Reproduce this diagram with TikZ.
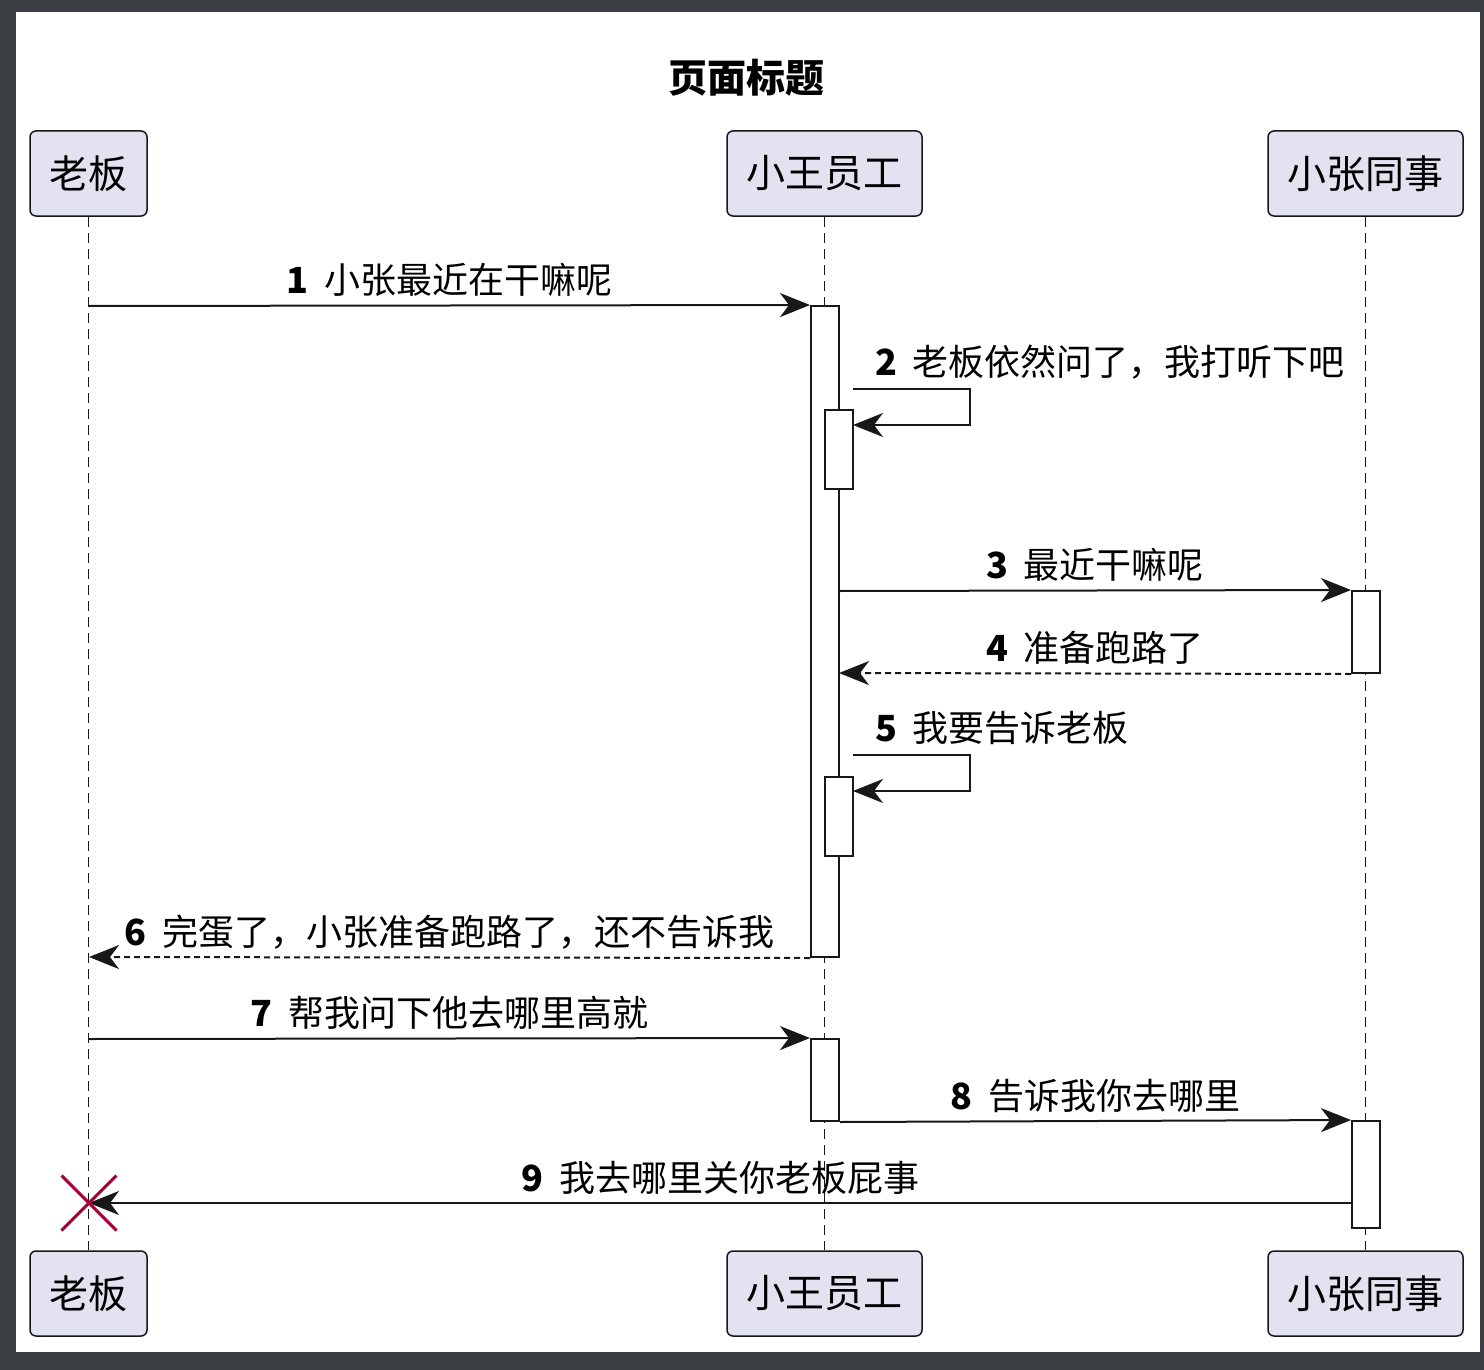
\documentclass[tikz,border=0pt]{standalone}
\usepackage{fontspec}
\setmainfont{Noto Sans CJK SC}
\usetikzlibrary{arrows.meta,shapes.misc}
\definecolor{framecol}{HTML}{3B3F43}
\definecolor{partfill}{HTML}{E2E2F0}
\definecolor{partline}{HTML}{181818}
\definecolor{xred}{HTML}{A80036}
\definecolor{ink}{HTML}{181818}
\newcommand{\numsp}{\hspace{0.42em}}
\begin{document}
\begin{tikzpicture}[x=0.5pt,y=-0.5pt,
  part/.style={draw=partline, line width=0.75pt, fill=partfill, rounded corners=3pt,
    inner sep=0pt, minimum height=42.5pt, font=\fontsize{19.5}{23}\selectfont},
  actbox/.style={draw=ink, line width=1pt, fill=white, minimum width=14pt, inner sep=0pt},
  msg/.style={line width=1pt, draw=ink, -{Stealth[length=15pt,width=12pt,inset=4.5pt]}},
  ret/.style={msg, dash pattern=on 3pt off 2pt},
  lbl/.style={font=\fontsize{18}{22}\selectfont, inner sep=0pt, text=black},
  life/.style={line width=0.5pt, dash pattern=on 5pt off 3pt, draw=ink}]
\useasboundingbox (0,0) rectangle (1484,1370);
\fill[framecol] (0,0) rectangle (1484,1370);
\fill[white] (16,12) rectangle (1480,1352);

% title
\node[font=\bfseries\fontsize{19.5}{23}\selectfont, inner sep=0pt] (title) at (746,78) {页面标题};

% participants
\node[part, minimum width=58.5pt] (boss) at (88.5,173.5) {老板};
\node[part, minimum width=97.5pt] (wang) at (824.5,173.5) {小王员工};
\node[part, minimum width=97.5pt] (zhang) at (1365.5,173.5) {小张同事};
\node[part, minimum width=58.5pt] (boss2) at (88.5,1293.5) {老板};
\node[part, minimum width=97.5pt] (wang2) at (824.5,1293.5) {小王员工};
\node[part, minimum width=97.5pt] (zhang2) at (1365.5,1293.5) {小张同事};

% lifelines
\draw[life] (boss.south) -- (boss2.north);
\draw[life] (wang.south) -- (wang2.north);
\draw[life] (zhang.south) -- (zhang2.north);

% activations
\node[actbox, minimum height=325.5pt] (act1) at (825,631.5) {};
\node[actbox, minimum height=39.5pt] (act2) at (839,449.5) {};
\node[actbox, minimum height=41pt] (act3) at (1366,632) {};
\node[actbox, minimum height=39.5pt] (act4) at (839,816.5) {};
\node[actbox, minimum height=41pt] (act5) at (825,1080) {};
\node[actbox, minimum height=53.5pt] (act6) at (1366,1174.5) {};

% endpoint coordinates
\coordinate (m1s) at (89,306);
\coordinate (m2s) at (853,389);
\coordinate (m2e) at (853,425);
\coordinate (m3s) at (839,591);
\coordinate (m4e) at (839,673);
\coordinate (m5s) at (853,755);
\coordinate (m5e) at (853,791);
\coordinate (m6e) at (89,957);
\coordinate (m7s) at (89,1039);
\coordinate (m9s) at (1352,1203);
\coordinate (m9e) at (89,1203);

% messages
\draw[msg] (m1s) -- node[lbl, midway, anchor=base, yshift=6pt] {\textbf{1}\numsp 小张最近在干嘛呢} (act1.north west);
\draw[msg] (m2s) -- ++(117,0) |- (m2e);
\node[lbl, anchor=base west] (l2) at (875,375) {\textbf{2}\numsp 老板依然问了，我打听下吧};
\draw[msg] (m3s) -- node[lbl, midway, anchor=base, yshift=6pt] {\textbf{3}\numsp 最近干嘛呢} (act3.north west);
\draw[ret] (act3.south west) -- node[lbl, midway, anchor=base, yshift=6pt] {\textbf{4}\numsp 准备跑路了} (m4e);
\draw[msg] (m5s) -- ++(117,0) |- (m5e);
\node[lbl, anchor=base west] (l5) at (875,741) {\textbf{5}\numsp 我要告诉老板};
\draw[ret] (act1.south west) -- node[lbl, midway, anchor=base, yshift=6pt] {\textbf{6}\numsp 完蛋了，小张准备跑路了，还不告诉我} (m6e);
\draw[msg] (m7s) -- node[lbl, midway, anchor=base, yshift=6pt] {\textbf{7}\numsp 帮我问下他去哪里高就} (act5.north west);
\draw[msg] (act5.south east) -- node[lbl, midway, anchor=base, yshift=6pt] {\textbf{8}\numsp 告诉我你去哪里} (act6.north west);
\draw[msg] (m9s) -- node[lbl, midway, anchor=base, yshift=6pt] {\textbf{9}\numsp 我去哪里关你老板屁事} (m9e);

% destroy mark
\node[cross out, draw=xred, line width=1.5pt, minimum size=26pt, inner sep=0pt] (destroy) at (89,1203) {};
\end{tikzpicture}
\end{document}
